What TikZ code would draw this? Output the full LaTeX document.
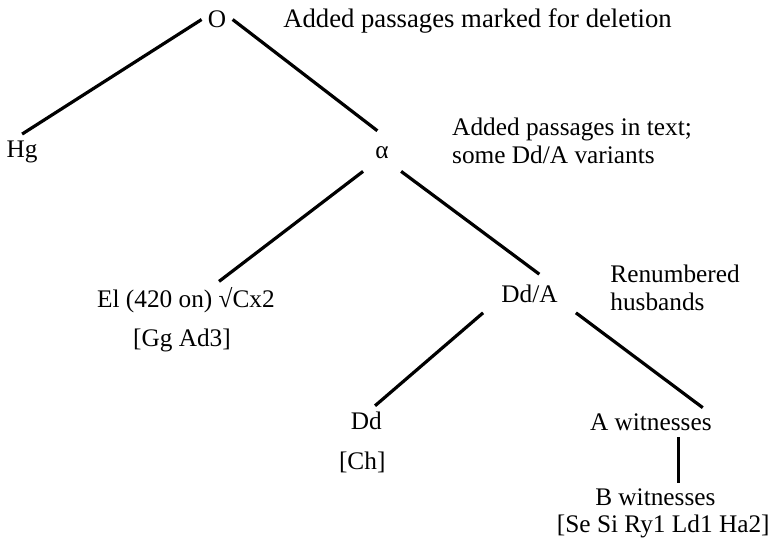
\documentclass[tikz,border=0pt]{standalone}
\usepackage{fontspec}
\setmainfont{Liberation Serif}
\begin{document}
\begin{tikzpicture}[
    every node/.style={font=\fontsize{12.7}{14}\selectfont, inner sep=3bp},
    wit/.style={anchor=base},
    note/.style={anchor=base west, align=left, inner sep=0pt},
    branch/.style={line width=1.6bp}]
    \useasboundingbox (0,0) rectangle (13.60,9.70);
    % witnesses
    \node[wit] (O) at (3.83,9.21) {O};
    \node[wit] (Hg) at (0.39,6.93) {Hg};
    \node[wit, inner sep=6bp] (alpha) at (6.74,6.90) {α};
    \node[wit] (El) at (3.28,4.27) {El (420 on) √Cx2};
    \node[wit, minimum width=46bp, inner sep=5bp] (DdA) at (9.34,4.37) {Dd/A};
    \node[wit] (Dd) at (6.46,2.12) {Dd};
    \node[wit] (Awit) at (11.48,2.10) {A witnesses};
    \node[wit] (Bwit) at (11.56,0.78) {B witnesses};
    % manuscripts
    \node[wit] (Gg) at (3.21,3.58) {[Gg Ad3]};
    \node[wit] (Ch) at (6.39,1.41) {[Ch]};
    \node[wit] (Se) at (11.70,0.30) {[Se Si Ry1 Ld1 Ha2]};
    % notes (base = last line)
    \node[note, font=\fontsize{13.4}{14}\selectfont] (delnote) at (4.99,9.21) {Added passages marked for deletion};
    \node[note] (textnote) at (7.97,6.81) {Added passages in text;\\some Dd/A variants};
    \node[note] (husnote) at (10.76,4.22) {Renumbered\\husbands};
    % branches
    \draw[branch] (O.west) -- (Hg.north);
    \draw[branch, shorten >=3bp] (O.east) -- (alpha.north);
    \draw[branch] (alpha.south west) -- (El.30);
    \draw[branch] (alpha.south east) -- (DdA.63);
    \draw[branch] (DdA.south west) -- (Dd.60);
    \draw[branch] (DdA.south east) -- (Awit.16);
    \draw[branch] (Awit.-28) -- (Awit.-28 |- Bwit.north);
\end{tikzpicture}
\end{document}
